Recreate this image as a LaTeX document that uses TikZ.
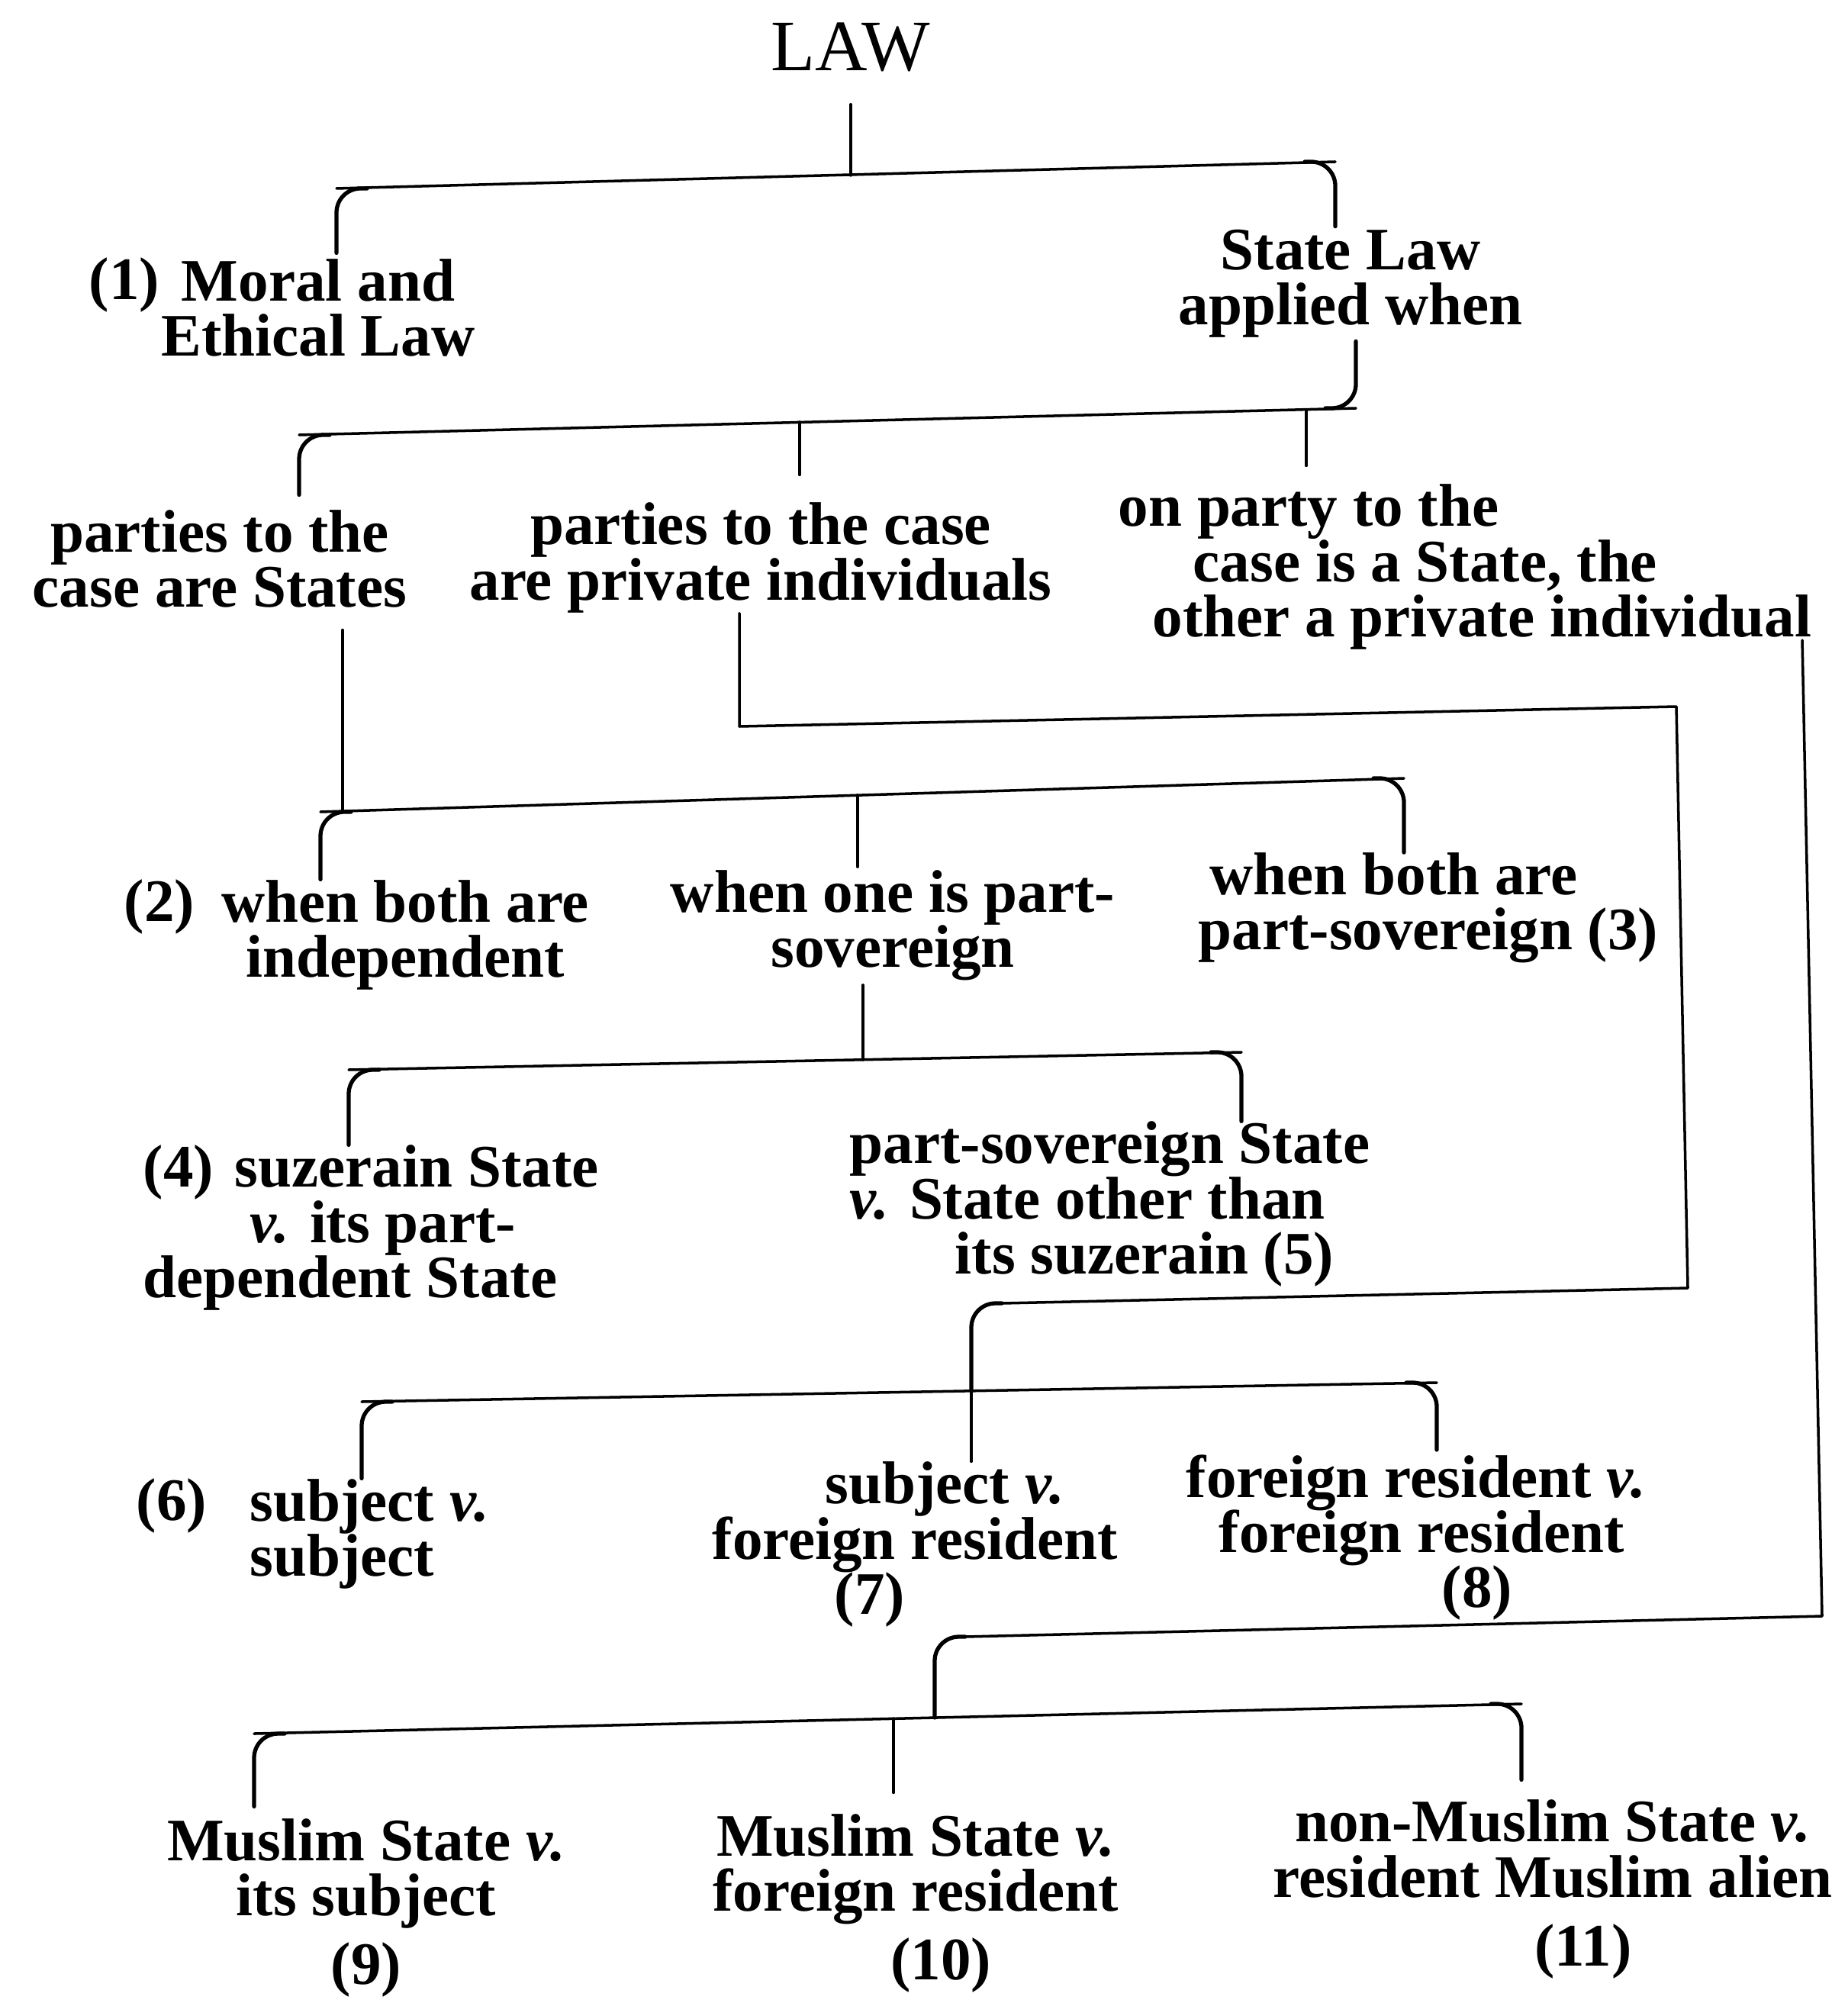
\documentclass[tikz,border=0pt]{standalone}
\usepackage{fontspec}
\setmainfont{Liberation Serif}
\usepackage{tikz}
\usetikzlibrary{calc}
\newcommand{\leaffont}{\fontsize{22.5}{20.5}\selectfont\bfseries\lineskiplimit=-30pt\relax}

\begin{document}
\begin{tikzpicture}[line cap=round,line join=round,x=1.0cm,y=1.0cm,
  rule/.style={line width=1pt},
  hook/.style={line width=1.5pt,rounded corners=9pt},
  leaf/.style={inner sep=0pt,font=\leaffont,align=center},
  leafl/.style={inner sep=0pt,font=\leaffont,align=left,anchor=west},
  num/.style={inner sep=0pt,font=\leaffont,anchor=base}]
\useasboundingbox (0,0) rectangle (24.21,-26.25);

% heading
\node[inner sep=0pt,font=\fontsize{27}{30}\selectfont] (law) at (11.15,-0.62) {LAW};

% first division
\node[num] (n1) at (1.63,-3.93) {(1)};
\node[leaf] (moral) at (4.17,-4.03) {Moral and\\Ethical Law};
\node[leaf] (statelaw) at (17.70,-3.72) {State Law\\applied when};

% second division
\node[leaf] (states) at (2.88,-7.32) {parties to the\\case are States};
\node[leaf] (private) at (9.97,-7.31) {parties to the case\\are private individuals};
\node[leafl] (onparty) at (14.65,-7.43) {on party to the\\\hspace*{0.98cm}case is a State, the\\\hspace*{0.45cm}other a private individual};

% states
\node[num] (n2) at (2.09,-12.07) {(2)};
\node[leaf] (indep) at (5.31,-12.25) {when both are\\independent};
\node[leaf] (onepart) at (11.70,-12.13) {when one is part-\\sovereign};
\node[leafl] (bothpart) at (15.70,-11.90) {\hspace*{0.15cm}when both are\\part-sovereign (3)};

\node[leafl] (suzerain) at (1.87,-16.09) {(4)\hspace{0.28cm}suzerain State\\\hspace*{1.40cm}\textit{v.} its part-\\dependent State};
\node[leafl] (sov5) at (11.13,-15.78) {part-sovereign State\\\textit{v.} State other than\\\hspace*{1.38cm}its suzerain (5)};

% private individuals
\node[num] (n6) at (2.25,-19.92) {(6)};
\node[leafl] (subj6) at (3.27,-20.10) {subject \textit{v.}\\subject};
\node[leafl] (subj7) at (9.33,-20.24) {\hspace*{1.48cm}subject \textit{v.}\\foreign resident\\\hspace*{1.60cm}(7)};
\node[leafl] (fr8) at (15.54,-20.15) {foreign resident \textit{v.}\\\hspace*{0.43cm}foreign resident\\\hspace*{3.35cm}(8)};

% State v. private individual
\node[leaf] (m9) at (4.80,-25.00) {Muslim State \textit{v.}\\its subject\\[0.18cm](9)};
\node[leaf] (m10) at (12.00,-24.94) {Muslim State \textit{v.}\\foreign resident\\[0.18cm]\hspace*{0.66cm}(10)};
\node[leaf] (m11) at (20.35,-24.76) {non-Muslim State \textit{v.}\\resident Muslim alien\\[0.18cm]\hspace*{0.8cm}(11)};

% bar under LAW
\coordinate (a0) at (11.15,-2.30);
\coordinate (a1) at (4.41,-2.47);
\coordinate (a2) at (17.50,-2.12);
\draw[rule,shorten <=0.42cm] (law.south) -- (a0);
\draw[rule] (a1) -- (a2);
\draw[hook,shorten >=0.07cm] ([xshift=0.40cm]a1) -- (a1) -- (a1 |- moral.north);
\draw[hook,shorten >=0.04cm] ([xshift=-0.40cm]a2) -- (a2) -- (a2 |- statelaw.north);

% bar under State Law
\coordinate (b1) at (3.92,-5.70);
\coordinate (b2) at (17.77,-5.35);
\coordinate (b3) at (10.48,-5.53);
\coordinate (b4) at (17.12,-5.37);
\draw[rule] (b1) -- (b2);
\draw[hook,shorten <=0.04cm] (b2 |- statelaw.south) -- (b2) -- ([xshift=-0.40cm]b2);
\draw[hook,shorten >=0.19cm] ([xshift=0.40cm]b1) -- (b1) -- (b1 |- states.north);
\draw[rule,shorten >=0.36cm] (b3) -- (b3 |- private.north);
\draw[rule,shorten >=0.24cm] (b4) -- (b4 |- onparty.north);

% bar under the States
\coordinate (c0) at (4.49,-10.63);
\coordinate (c1) at (4.20,-10.64);
\coordinate (c2) at (18.40,-10.20);
\coordinate (c3) at (11.24,-10.42);
\draw[rule,shorten <=0.29cm] (c0 |- states.south) -- (c0);
\draw[rule] (c1) -- (c2);
\draw[hook] ([xshift=0.40cm]c1) -- (c1) -- (c1 |- indep.north);
\draw[hook] ([xshift=-0.40cm]c2) -- (c2) -- (c2 |- bothpart.north);
\draw[rule,shorten >=0.04cm] (c3) -- (c3 |- onepart.north);

% bar under part-sovereign
\coordinate (i0) at (11.31,-13.89);
\coordinate (i1) at (4.57,-14.02);
\coordinate (i2) at (16.27,-13.79);
\draw[rule,shorten <=0.05cm] (i0 |- onepart.south) -- (i0);
\draw[rule] (i1) -- (i2);
\draw[hook] ([xshift=0.40cm]i1) -- (i1) -- (i1 |- suzerain.north);
\draw[hook] ([xshift=-0.40cm]i2) -- (i2) -- (i2 |- sov5.north);

% private individuals, round by the right
\coordinate (d0) at (9.69,-8.03);
\coordinate (d1) at (9.69,-9.52);
\coordinate (d2) at (21.97,-9.26);
\coordinate (d3) at (22.12,-16.88);
\coordinate (e1) at (12.73,-17.08);
\coordinate (f0) at (12.73,-18.23);
\coordinate (f1) at (4.74,-18.37);
\coordinate (f2) at (18.83,-18.12);
\draw[rule] (d0 |- private.south) -- (d1) -- (d2) -- (d3) -- ([xshift=0.40cm]e1);
\draw[hook] ([xshift=0.40cm]e1) -- (e1) -- (f0);
\draw[rule] (f0) -- (e1 |- subj7.north);
\draw[rule] (f1) -- (f2);
\draw[hook] ([xshift=0.40cm]f1) -- (f1) -- (f1 |- subj6.north);
\draw[hook,shorten >=0.06cm] ([xshift=-0.40cm]f2) -- (f2) -- (f2 |- fr8.north);

% State and private individual, round by the far right
\coordinate (g0) at (23.62,-8.39);
\coordinate (g1) at (23.88,-21.18);
\coordinate (g2) at (12.25,-21.45);
\coordinate (h0) at (12.25,-22.51);
\coordinate (h1) at (3.33,-22.72);
\coordinate (h2) at (19.94,-22.33);
\coordinate (h3) at (11.71,-22.52);
\draw[rule] (g0) -- (g1) -- ([xshift=0.40cm]g2);
\draw[hook] ([xshift=0.40cm]g2) -- (g2) -- (h0);
\draw[rule] (h1) -- (h2);
\draw[hook,shorten >=0.15cm] ([xshift=0.40cm]h1) -- (h1) -- (h1 |- m9.north);
\draw[hook,shorten >=0.26cm] ([xshift=-0.40cm]h2) -- (h2) -- (h2 |- m11.north);
\draw[rule,shorten >=0.27cm] (h3) -- (h3 |- m10.north);
\end{tikzpicture}
\end{document}
